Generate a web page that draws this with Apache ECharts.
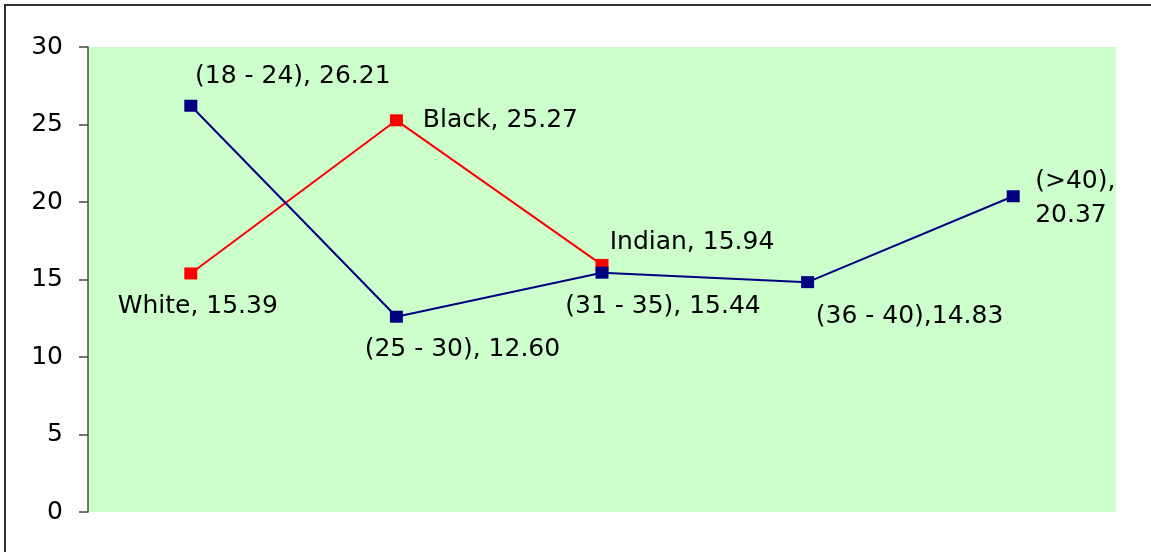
<!DOCTYPE html>
<html>
<head>
<meta charset="utf-8">
<script src="https://cdn.jsdelivr.net/npm/echarts@6/dist/echarts.min.js"></script>
<style>
  html, body { margin: 0; padding: 0; background: #fff; }
  #chart { width: 1151px; height: 552px; }
</style>
</head>
<body>
<div id="chart"></div>
<script>
// Age groups along the category axis
const categories = ['(18 - 24)', '(25 - 30)', '(31 - 35)', '(36 - 40)', '(>40)'];

// Age-group series
const ageNames = ['(18 - 24)', '(25 - 30)', '(31 - 35)', '(36 - 40)', '(>40)'];
const ageValues = [26.21, 12.60, 15.44, 14.83, 20.37];
const ageSeparators = [', ', ', ', ', ', ',', ',\n'];

// Race series
const raceNames = ['White', 'Black', 'Indian'];
const raceValues = [15.39, 25.27, 15.94];
const raceSeparators = [', ', ', ', ', '];

// Y axis ticks
const yMin = 0, yMax = 30, yStep = 5;

// Label placement around each marker (offset of label from marker centre)
const ageLabelLayout = [
  { offset: [102, -29], align: 'center' },
  { offset: [66, 33], align: 'center' },
  { offset: [61, 34], align: 'center' },
  { offset: [102, 34], align: 'center' },
  { offset: [22, 2], align: 'left' }
];
const raceLabelLayout = [
  { offset: [7, 33], align: 'center' },
  { offset: [104, 0], align: 'center' },
  { offset: [90, -22], align: 'center' }
];

const FONT = 'DejaVu Sans';
const FONT_SIZE = 25;

function buildData(names, values, seps, layout) {
  return values.map(function (v, i) {
    return {
      value: v,
      label: {
        show: true,
        position: 'inside',
        offset: layout[i].offset,
        align: layout[i].align,
        verticalAlign: 'middle',
        color: '#000',
        textBorderWidth: 0,
        fontFamily: FONT,
        fontSize: FONT_SIZE,
        lineHeight: 34,
        formatter: names[i] + seps[i] + v.toFixed(2)
      }
    };
  });
}

const chart = echarts.init(document.getElementById('chart'));
chart.setOption({
  animation: false,
  backgroundColor: '#fff',
  graphic: [{
    type: 'rect',
    z: 100,
    silent: true,
    shape: { x: 5, y: 5, width: 1300, height: 700 },
    style: { fill: null, stroke: '#333', lineWidth: 2 }
  }],
  grid: {
    left: 88, top: 47, right: 35, bottom: 40,
    show: true,
    backgroundColor: '#CCFFCC',
    borderWidth: 0
  },
  xAxis: {
    type: 'category',
    data: categories,
    boundaryGap: true,
    axisLine: { show: false },
    axisTick: { show: false },
    axisLabel: { show: false },
    splitLine: { show: false }
  },
  yAxis: {
    type: 'value',
    min: yMin, max: yMax, interval: yStep,
    axisLine: { show: true, lineStyle: { color: '#3a553a', width: 1.5 } },
    axisTick: { show: true, inside: false, length: 9, lineStyle: { color: '#444', width: 1.5 } },
    axisLabel: { color: '#000', fontFamily: FONT, fontSize: FONT_SIZE, margin: 25 },
    splitLine: { show: false }
  },
  series: [
    {
      name: 'Race',
      type: 'line',
      data: buildData(raceNames, raceValues, raceSeparators, raceLabelLayout),
      symbol: 'rect',
      symbolSize: [13, 12],
      lineStyle: { color: '#FF0000', width: 2 },
      itemStyle: { color: '#FF0000' },
      z: 2
    },
    {
      name: 'Age',
      type: 'line',
      data: buildData(ageNames, ageValues, ageSeparators, ageLabelLayout),
      symbol: 'rect',
      symbolSize: [13, 12],
      lineStyle: { color: '#000080', width: 2 },
      itemStyle: { color: '#000080' },
      z: 3
    }
  ]
});
</script>
</body>
</html>
